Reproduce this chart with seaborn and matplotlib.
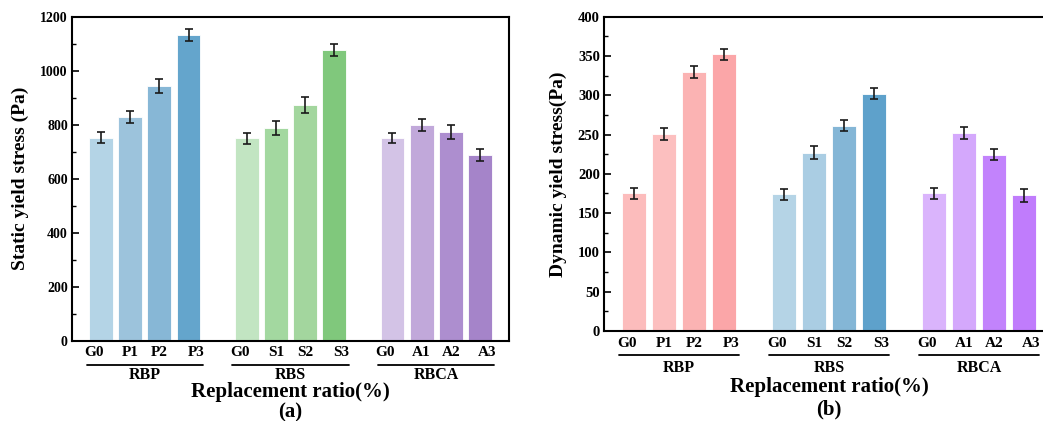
import numpy as np
import pandas as pd
import matplotlib
matplotlib.use("Agg")
import matplotlib.pyplot as plt
import matplotlib.transforms as mtransforms
from matplotlib.ticker import MultipleLocator
import seaborn as sns

# ---------------- data ----------------
groups = ["RBP", "RBS", "RBCA"]
labels_rbp = ["G0", "P1", "P2", "P3"]
labels_rbs = ["G0", "S1", "S2", "S3"]
labels_rbca = ["G0", "A1", "A2", "A3"]

static_rbp = [752, 828, 945, 1132]
static_rbs = [749, 788, 873, 1077]
static_rbca = [751, 799, 773, 688]
static_err_rbp = [20, 23, 26, 23]
static_err_rbs = [20, 26, 29, 22]
static_err_rbca = [20, 23, 25, 22]

dynamic_rbp = [175, 251, 330, 352]
dynamic_rbs = [174, 227, 261, 302]
dynamic_rbca = [175, 252, 224, 173]
dynamic_err_rbp = [7, 7.4, 7.4, 7.2]
dynamic_err_rbs = [7, 8.2, 7, 7.2]
dynamic_err_rbca = [7, 7.8, 7, 8.2]

colors_a = ["#b4d4e6", "#9cc3dc", "#87b7d6", "#64a5cc",
            "#c2e5c2", "#a3d8a0", "#a3d69e", "#80c87c",
            "#d3c3e6", "#c1a8da", "#ad8ecf", "#a584c9"]
colors_b = ["#fcbcbc", "#fcbfbf", "#fbb3b3", "#fba6a8",
            "#b5d4e6", "#aacde3", "#84b6d6", "#5ea1cb",
            "#dab4fc", "#d4a8fc", "#c283fc", "#c07cfc"]

# ---------------- styling ----------------
sns.set_theme(style="white")
plt.rcParams["font.family"] = ["Liberation Serif", "DejaVu Serif"]
plt.rcParams["font.weight"] = "bold"
plt.rcParams["axes.labelweight"] = "bold"
for k in ["text.color", "axes.labelcolor", "xtick.color", "ytick.color",
          "axes.edgecolor"]:
    plt.rcParams[k] = "black"

fig = plt.figure(figsize=(10.43, 4.21), dpi=100)
W, H = 1043.0, 421.0

ax_a = fig.add_axes([72 / W, 1 - 340.7 / H, (509 - 72) / W, (340.7 - 16.7) / H])
ax_b = fig.add_axes([604 / W, 1 - 331 / H, (1054 - 604) / W, (331 - 16.7) / H])

all_labels = [labels_rbp, labels_rbs, labels_rbca]
label_shift = [-0.25, 0.0, 0.0, 0.25, 0.0]


def build_df(vals, errs):
    rows = []
    for gi, g in enumerate(groups):
        for i, lab in enumerate(all_labels[gi]):
            rows.append({"pos": gi * 5 + i, "key": f"{g}-{lab}",
                         "value": vals[gi][i], "err": errs[gi][i],
                         "label": lab, "group": g})
    return pd.DataFrame(rows)


def draw(ax, df, colors, ylim, major, minor, ylabel, xlab_y, grp_line_y,
         grp_y, title_y, panel, ylabelpad):
    sns.barplot(data=df, x="pos", y="value", hue="key",
                hue_order=list(df["key"]), palette=colors, saturation=1,
                native_scale=True, dodge=False, legend=False, width=0.82,
                errorbar=None, edgecolor="white", linewidth=0.6, ax=ax)
    ax.errorbar(df["pos"], df["value"], yerr=df["err"], fmt="none",
                ecolor="#1a1a1a", elinewidth=1.2, capsize=3.2, capthick=1.2,
                zorder=5)
    ax.set_xlim(-1, 14)
    ax.set_ylim(*ylim)
    ax.yaxis.set_major_locator(MultipleLocator(major))
    ax.yaxis.set_minor_locator(MultipleLocator(minor))
    ax.tick_params(axis="y", which="major", direction="in", length=5,
                   width=1.2, labelsize=10, pad=3, left=True)
    ax.tick_params(axis="y", which="minor", direction="in", length=3,
                   width=1.0, left=True)
    ticks = [p + label_shift[p % 5] for p in df["pos"]]
    ax.set_xticks(ticks)
    ax.set_xticklabels(df["label"], fontsize=11, fontweight="bold")
    ax.tick_params(axis="x", length=0, pad=4)
    for lbl in ax.get_yticklabels():
        lbl.set_fontweight("bold")
    for s in ax.spines.values():
        s.set_visible(True)
        s.set_color("black")
        s.set_linewidth(1.5)
    ax.set_xlabel("")
    ax.set_ylabel(ylabel, fontsize=14, fontweight="bold", labelpad=ylabelpad)

    trans = mtransforms.blended_transform_factory(ax.transData, fig.transFigure)
    for gi, g in enumerate(groups):
        x0 = gi * 5
        ax.plot([x0 - 0.5, x0 + 3.5], [grp_line_y, grp_line_y], color="black",
                lw=1.3, transform=trans, clip_on=False)
        ax.text(x0 + 1.5, grp_y, g, transform=trans, ha="center", va="center",
                fontsize=11.5, fontweight="bold")
    ax.text(6.5, xlab_y, "Replacement ratio(%)", transform=trans, ha="center",
            va="center", fontsize=15, fontweight="bold")
    ax.text(6.5, title_y, panel, transform=trans, ha="center",
            va="center", fontsize=15, fontweight="bold")


df_a = build_df([static_rbp, static_rbs, static_rbca],
                [static_err_rbp, static_err_rbs, static_err_rbca])
df_b = build_df([dynamic_rbp, dynamic_rbs, dynamic_rbca],
                [dynamic_err_rbp, dynamic_err_rbs, dynamic_err_rbca])

draw(ax_a, df_a, colors_a, (0, 1200), 200, 100, "Static yield stress (Pa)",
     1 - 391.5 / H, 1 - 364.5 / H, 1 - 375 / H, 1 - 412.5 / H, "(a)", 8)
draw(ax_b, df_b, colors_b, (0, 400), 50, 25, "Dynamic yield stress(Pa)",
     1 - 387 / H, 1 - 355 / H, 1 - 368 / H, 1 - 409 / H, "(b)", 8)
ax_b.tick_params(axis="y", which="major", labelsize=10.5)

fig.savefig("out.png", dpi=100, facecolor="white")
